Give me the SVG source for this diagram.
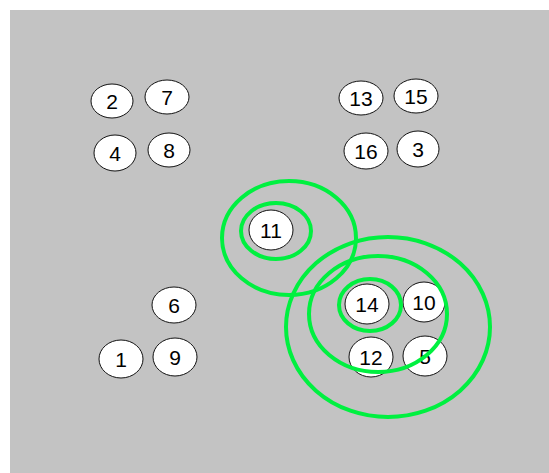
<svg xmlns="http://www.w3.org/2000/svg" width="549" height="473" viewBox="0 0 549 473">
<style>
.n ellipse{fill:#fff;stroke:#111;stroke-width:1}
.n text{font-family:"Liberation Sans",Arial,sans-serif;font-size:21px;fill:#000;text-anchor:middle;dominant-baseline:central}
.ring{fill:none;stroke:#00f040;stroke-width:4}
</style>
<rect x="0" y="0" width="549" height="473" fill="#fff"/>
<rect x="10" y="10" width="539" height="463" fill="#c3c3c3"/>
<g id="node-2" class="n"><ellipse cx="112" cy="101" rx="21" ry="17"/><text x="112" y="101">2</text></g>
<g id="node-7" class="n"><ellipse cx="167" cy="97" rx="22" ry="17"/><text x="167" y="97">7</text></g>
<g id="node-4" class="n"><ellipse cx="115" cy="153" rx="21" ry="18"/><text x="115" y="153">4</text></g>
<g id="node-8" class="n"><ellipse cx="169" cy="150" rx="21" ry="17"/><text x="169" y="150">8</text></g>
<g id="node-13" class="n"><ellipse cx="361" cy="98" rx="22" ry="17"/><text x="361" y="98">13</text></g>
<g id="node-15" class="n"><ellipse cx="416" cy="96" rx="22" ry="17"/><text x="416" y="96">15</text></g>
<g id="node-16" class="n"><ellipse cx="366" cy="151" rx="22" ry="18"/><text x="366" y="151">16</text></g>
<g id="node-3" class="n"><ellipse cx="418" cy="149" rx="21" ry="18"/><text x="418" y="149">3</text></g>
<g id="node-11" class="n"><ellipse cx="271" cy="230" rx="22" ry="20"/><text x="271" y="230">11</text></g>
<g id="node-14" class="n"><ellipse cx="367" cy="304" rx="22" ry="20"/><text x="367" y="304">14</text></g>
<g id="node-10" class="n"><ellipse cx="424" cy="302" rx="21" ry="20"/><text x="424" y="302">10</text></g>
<g id="node-12" class="n"><ellipse cx="371" cy="357" rx="22" ry="20"/><text x="371" y="357">12</text></g>
<g id="node-5" class="n"><ellipse cx="425" cy="356" rx="22" ry="20"/><text x="425" y="356">5</text></g>
<g id="node-6" class="n"><ellipse cx="174" cy="305" rx="22" ry="18"/><text x="174" y="305">6</text></g>
<g id="node-1" class="n"><ellipse cx="121" cy="359" rx="22" ry="19"/><text x="121" y="359">1</text></g>
<g id="node-9" class="n"><ellipse cx="175" cy="357" rx="22" ry="19"/><text x="175" y="357">9</text></g>
<g id="highlights">
<ellipse class="ring" cx="276" cy="231" rx="35" ry="28"/>
<ellipse class="ring" cx="289" cy="238" rx="67" ry="57"/>
<ellipse class="ring" cx="370" cy="305" rx="31" ry="26"/>
<ellipse class="ring" cx="378" cy="314" rx="69" ry="58"/>
<ellipse class="ring" cx="388" cy="327" rx="102" ry="90"/>
</g>
</svg>
